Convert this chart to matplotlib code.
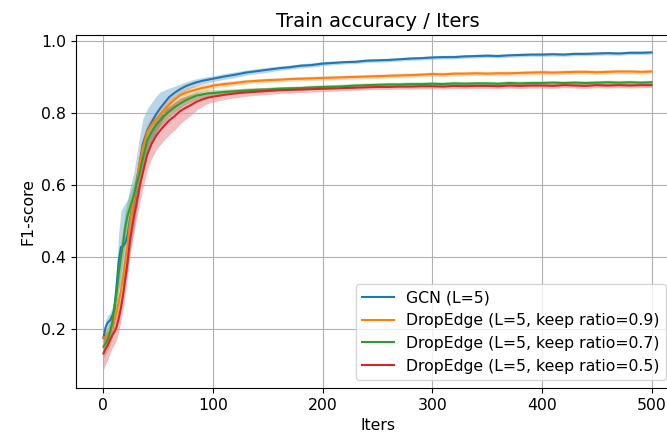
import numpy as np
import matplotlib
matplotlib.use("Agg")
import matplotlib.pyplot as plt

plt.rcParams["font.size"] = 11.3
plt.rcParams["axes.titlesize"] = 14

iters = [0, 2, 4, 6, 8, 10, 12, 14, 16, 18, 20, 22, 24, 26, 28, 30,
         33, 36, 40, 44, 48, 52, 56, 60, 65, 70, 75, 80, 85, 90, 95,
         100, 110, 120, 130, 140, 150, 160, 170, 180, 190, 200, 210, 220, 230, 240,
         250, 260, 270, 280, 290, 300, 310, 320, 330, 340, 350, 360, 370, 380, 390,
         400, 410, 420, 430, 440, 450, 460, 470, 480, 490, 500]

gcn_mean = [0.175, 0.205, 0.218, 0.224, 0.236, 0.255, 0.320, 0.390, 0.428, 0.430, 0.440, 0.460, 0.500, 0.530, 0.560, 0.600,
            0.660, 0.715, 0.752, 0.775, 0.797, 0.815, 0.830, 0.845, 0.857, 0.867, 0.875, 0.881, 0.886, 0.890, 0.893,
            0.896, 0.902, 0.907, 0.913, 0.917, 0.921, 0.925, 0.928, 0.932, 0.934, 0.938, 0.940, 0.942, 0.943, 0.946,
            0.947, 0.948, 0.950, 0.952, 0.953, 0.955, 0.956, 0.956, 0.958, 0.959, 0.960, 0.959, 0.961, 0.962, 0.963,
            0.963, 0.964, 0.963, 0.965, 0.965, 0.966, 0.967, 0.966, 0.968, 0.968, 0.969]
gcn_std = [0.015, 0.020, 0.020, 0.020, 0.025, 0.030, 0.050, 0.080, 0.100, 0.110, 0.110, 0.100, 0.090, 0.085, 0.080, 0.078,
           0.075, 0.070, 0.060, 0.055, 0.050, 0.045, 0.035, 0.025, 0.018, 0.014, 0.012, 0.011, 0.010, 0.009, 0.009,
           0.008, 0.008, 0.008, 0.007, 0.007, 0.007, 0.006, 0.006, 0.006, 0.006, 0.006, 0.005, 0.005, 0.005, 0.005,
           0.005, 0.005, 0.005, 0.005, 0.005, 0.005, 0.005, 0.005, 0.005, 0.005, 0.005, 0.005, 0.005, 0.005, 0.005,
           0.005, 0.005, 0.005, 0.005, 0.005, 0.005, 0.005, 0.005, 0.005, 0.005, 0.005]

de09_mean = [0.176, 0.177, 0.180, 0.190, 0.205, 0.225, 0.245, 0.275, 0.305, 0.345, 0.390, 0.435, 0.490, 0.530, 0.565, 0.600,
             0.660, 0.705, 0.748, 0.768, 0.782, 0.797, 0.812, 0.825, 0.838, 0.850, 0.857, 0.862, 0.866, 0.870, 0.873,
             0.877, 0.881, 0.884, 0.888, 0.890, 0.892, 0.893, 0.895, 0.896, 0.897, 0.898, 0.899, 0.900, 0.901, 0.902,
             0.903, 0.904, 0.905, 0.906, 0.907, 0.909, 0.908, 0.910, 0.910, 0.911, 0.910, 0.911, 0.911, 0.912, 0.913,
             0.914, 0.913, 0.914, 0.915, 0.915, 0.914, 0.915, 0.916, 0.916, 0.915, 0.916]
de09_std = [0.020, 0.020, 0.022, 0.025, 0.028, 0.030, 0.032, 0.035, 0.038, 0.040, 0.040, 0.040, 0.040, 0.040, 0.038, 0.035,
            0.032, 0.030, 0.025, 0.022, 0.020, 0.019, 0.018, 0.016, 0.015, 0.014, 0.013, 0.012, 0.011, 0.010, 0.009,
            0.008, 0.007, 0.007, 0.006, 0.006, 0.006, 0.006, 0.006, 0.006, 0.006, 0.006, 0.006, 0.006, 0.006, 0.006,
            0.006, 0.006, 0.006, 0.006, 0.006, 0.006, 0.006, 0.006, 0.006, 0.006, 0.006, 0.006, 0.006, 0.006, 0.006,
            0.006, 0.006, 0.006, 0.006, 0.006, 0.006, 0.006, 0.006, 0.006, 0.006, 0.006]

de07_mean = [0.151, 0.160, 0.172, 0.190, 0.216, 0.260, 0.300, 0.355, 0.400, 0.440, 0.485, 0.515, 0.535, 0.555, 0.575, 0.600,
             0.635, 0.675, 0.725, 0.748, 0.768, 0.781, 0.794, 0.805, 0.817, 0.827, 0.836, 0.843, 0.849, 0.852, 0.855,
             0.856, 0.859, 0.861, 0.863, 0.865, 0.866, 0.868, 0.869, 0.870, 0.872, 0.873, 0.874, 0.875, 0.877, 0.878,
             0.879, 0.880, 0.880, 0.881, 0.881, 0.882, 0.881, 0.883, 0.882, 0.883, 0.883, 0.882, 0.884, 0.883, 0.884,
             0.884, 0.885, 0.884, 0.885, 0.884, 0.885, 0.886, 0.885, 0.886, 0.885, 0.886]
de07_std = [0.030, 0.030, 0.030, 0.035, 0.038, 0.040, 0.042, 0.045, 0.045, 0.045, 0.045, 0.043, 0.042, 0.040, 0.038, 0.035,
            0.032, 0.028, 0.025, 0.022, 0.020, 0.018, 0.017, 0.015, 0.014, 0.013, 0.012, 0.012, 0.011, 0.010, 0.010,
            0.010, 0.008, 0.007, 0.007, 0.006, 0.006, 0.006, 0.006, 0.006, 0.006, 0.006, 0.006, 0.006, 0.006, 0.006,
            0.006, 0.006, 0.006, 0.006, 0.006, 0.006, 0.006, 0.006, 0.006, 0.006, 0.006, 0.006, 0.006, 0.006, 0.006,
            0.006, 0.006, 0.006, 0.006, 0.006, 0.006, 0.006, 0.006, 0.006, 0.006, 0.006]

de05_mean = [0.132, 0.145, 0.155, 0.170, 0.182, 0.192, 0.205, 0.230, 0.258, 0.295, 0.340, 0.385, 0.440, 0.480, 0.515, 0.545,
             0.595, 0.635, 0.685, 0.715, 0.737, 0.753, 0.767, 0.780, 0.792, 0.806, 0.815, 0.823, 0.832, 0.838, 0.843,
             0.846, 0.851, 0.855, 0.858, 0.860, 0.862, 0.864, 0.865, 0.866, 0.867, 0.868, 0.869, 0.870, 0.871, 0.872,
             0.873, 0.873, 0.874, 0.874, 0.875, 0.875, 0.874, 0.876, 0.875, 0.876, 0.876, 0.875, 0.877, 0.876, 0.877,
             0.877, 0.876, 0.878, 0.877, 0.876, 0.878, 0.877, 0.878, 0.877, 0.878, 0.878]
de05_std = [0.045, 0.043, 0.040, 0.038, 0.036, 0.035, 0.035, 0.035, 0.035, 0.037, 0.040, 0.040, 0.042, 0.044, 0.045, 0.045,
            0.045, 0.045, 0.042, 0.041, 0.040, 0.040, 0.040, 0.040, 0.039, 0.036, 0.032, 0.028, 0.023, 0.019, 0.016,
            0.015, 0.013, 0.012, 0.011, 0.010, 0.010, 0.009, 0.009, 0.008, 0.008, 0.008, 0.008, 0.007, 0.007, 0.007,
            0.007, 0.007, 0.007, 0.007, 0.007, 0.007, 0.007, 0.007, 0.007, 0.007, 0.007, 0.007, 0.007, 0.007, 0.007,
            0.007, 0.007, 0.007, 0.007, 0.007, 0.007, 0.007, 0.007, 0.007, 0.007, 0.007]

series = [
    ("GCN (L=5)", gcn_mean, gcn_std, "tab:blue"),
    ("DropEdge (L=5, keep ratio=0.9)", de09_mean, de09_std, "tab:orange"),
    ("DropEdge (L=5, keep ratio=0.7)", de07_mean, de07_std, "tab:green"),
    ("DropEdge (L=5, keep ratio=0.5)", de05_mean, de05_std, "tab:red"),
]

fig = plt.figure(figsize=(6.67, 4.36), dpi=100)
# axes runs past the right border, as in the cropped original
ax = fig.add_axes([76 / 667, 48 / 436, 603 / 667, 353 / 436])

x = np.array(iters)
for label, mean, std, color in series:
    m = np.array(mean)
    s = np.array(std)
    ax.plot(x, m, color=color, linewidth=1.5, label=label)
    ax.fill_between(x, m - s, m + s, color=color, alpha=0.3, linewidth=0)

ax.set_xlim(-25, 525)
ax.set_ylim(0.036, 1.0175)
ax.set_xticks([0, 100, 200, 300, 400, 500])
ax.set_yticks([0.2, 0.4, 0.6, 0.8, 1.0])
ax.grid(True)
ax.set_title("Train accuracy / Iters")
ax.set_xlabel("Iters")
ax.set_ylabel("F1-score")
ax.legend(loc="lower right", bbox_to_anchor=(666 / 667, 56 / 436),
          bbox_transform=fig.transFigure, borderaxespad=0)

fig.savefig("out.png", dpi=100)
